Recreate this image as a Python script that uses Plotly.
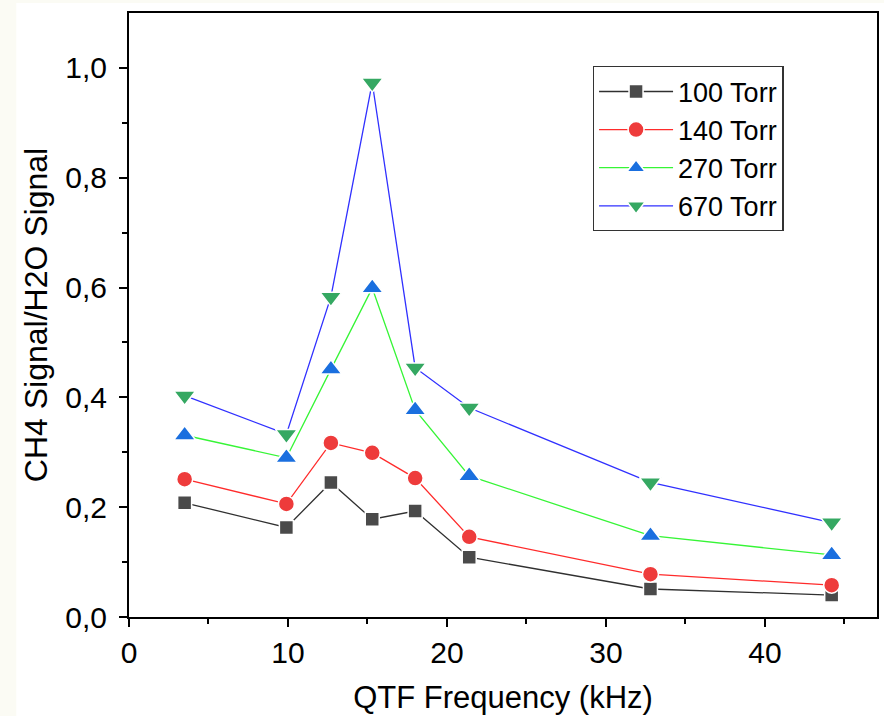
import plotly.graph_objects as go

freq = [3.5, 9.9, 12.7, 15.3, 18.0, 21.4, 32.8, 44.2]
s100 = [0.208, 0.163, 0.245, 0.178, 0.193, 0.109, 0.051, 0.040]
s140 = [0.251, 0.206, 0.317, 0.299, 0.253, 0.146, 0.078, 0.058]
s270 = [0.331, 0.290, 0.451, 0.599, 0.377, 0.257, 0.148, 0.113]
s670 = [0.403, 0.333, 0.583, 0.973, 0.454, 0.381, 0.245, 0.172]

names = ["100 Torr", "140 Torr", "270 Torr", "670 Torr"]
series = [s100, s140, s270, s670]
line_colors = ["#303030", "#ff2b2b", "#36f536", "#3030ff"]
marker_colors = ["#4a4a4a", "#ee3b3b", "#1a6fdf", "#35a862"]
symbols = ["square", "circle", "triangle-up", "triangle-down"]
sizes = [14, 16, 19, 19]

fig = go.Figure()
for n, s, lc, mc, sym, sz in zip(names, series, line_colors, marker_colors, symbols, sizes):
    fig.add_trace(go.Scatter(
        x=freq, y=s, name=n, mode="lines+markers",
        line=dict(color=lc, width=1.3),
        marker=dict(symbol=sym, size=sz, color=mc, line=dict(color="white", width=1.5)),
    ))

font = "Liberation Sans, Arial, sans-serif"
fig.update_layout(
    width=884, height=716,
    margin=dict(l=129, r=5, t=13, b=99),
    paper_bgcolor="#fbfbf4",
    plot_bgcolor="white",
    separators=", ",
    font=dict(family=font, size=30, color="black"),
    showlegend=True,
    legend=dict(
        x=0.62, y=0.912, xanchor="left", yanchor="top",
        bordercolor="#333333", borderwidth=1.3, bgcolor="white",
        font=dict(size=27, family=font, color="black"),
        tracegroupgap=0, itemwidth=74,
    ),
    shapes=[dict(type="rect", xref="paper", yref="paper",
                 x0=-0.1507, x1=1.01, y0=-0.2, y1=1.0166,
                 fillcolor="white", line=dict(width=0), layer="below")],
)
fig.update_xaxes(
    range=[0, 47.05], tickvals=[0, 10, 20, 30, 40],
    ticks="outside", ticklen=8, tickwidth=2, tickcolor="black",
    minor=dict(tickvals=[5, 15, 25, 35, 45], ticks="outside", ticklen=5, tickwidth=2, tickcolor="black"),
    showline=True, linewidth=2, linecolor="black", mirror=True,
    showgrid=False, zeroline=False,
    title=dict(text="QTF Frequency (kHz)", font=dict(size=31), standoff=18),
    tickfont=dict(size=30), ticklabelstandoff=0,
)
fig.update_yaxes(
    range=[0, 1.1], tickvals=[0, 0.2, 0.4, 0.6, 0.8, 1.0], tickformat=".1f",
    ticks="outside", ticklen=8, tickwidth=2, tickcolor="black",
    minor=dict(tickvals=[0.1, 0.3, 0.5, 0.7, 0.9], ticks="outside", ticklen=5, tickwidth=2, tickcolor="black"),
    showline=True, linewidth=2, linecolor="black", mirror=True,
    showgrid=False, zeroline=False,
    title=dict(text="CH4 Signal/H2O Signal", font=dict(size=32), standoff=8),
    tickfont=dict(size=30), ticklabelstandoff=6,
)

fig.write_html("out.html")
